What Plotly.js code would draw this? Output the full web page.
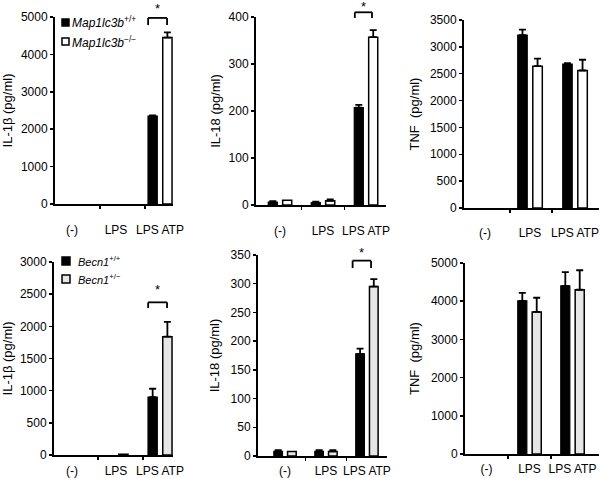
<!DOCTYPE html>
<html>
<head>
<meta charset="utf-8">
<script src="https://cdn.plot.ly/plotly-3.0.1.min.js"></script>
<style>html,body{margin:0;padding:0;background:#fff}#chart{width:600px;height:478px}</style>
</head>
<body>
<div id="chart"></div>
<script>
// ---------- data ----------
const categories = ['(-)', 'LPS', 'LPS ATP'];

// top row: Map1lc3b+/+ (black) vs Map1lc3b-/- (white)
const il1bMapWT = [0, 0, 2350];   const il1bMapWTErr = [0, 0, 20];
const il1bMapKO = [0, 0, 4450];   const il1bMapKOErr = [0, 0, 140];
const il18MapWT = [6, 5, 207];    const il18MapWTErr = [2, 2, 6];
const il18MapKO = [10, 9, 357];   const il18MapKOErr = [0, 3, 15];
const tnfMapWT  = [0, 3220, 2680]; const tnfMapWTErr = [0, 100, 15];
const tnfMapKO  = [0, 2640, 2560]; const tnfMapKOErr = [0, 140, 200];

// bottom row: Becn1+/+ (black) vs Becn1+/- (grey)
const il1bBecWT = [0, 0, 900];    const il1bBecWTErr = [0, 0, 130];
const il1bBecHet = [0, 12, 1840]; const il1bBecHetErr = [0, 0, 230];
const il18BecWT = [8, 8, 178];    const il18BecWTErr = [2, 2, 9];
const il18BecHet = [8, 8, 295];   const il18BecHetErr = [0, 2, 13];
const tnfBecWT  = [0, 4010, 4400]; const tnfBecWTErr = [0, 210, 360];
const tnfBecHet = [0, 3720, 4300]; const tnfBecHetErr = [0, 370, 510];

const seriesNames = {
  mapWT: '<i>Map1lc3b</i><sup>+/+</sup>',
  mapKO: '<i>Map1lc3b</i><sup>−/−</sup>',
  becWT: '<i>Becn1</i><sup>+/+</sup>',
  becHet: '<i>Becn1</i><sup>+/−</sup>'
};
const yTitles = ['IL-1β (pg/ml)', 'IL-18 (pg/ml)', 'TNF\u00a0 (pg/ml)', 'IL-1β (pg/ml)', 'IL-18 (pg/ml)', 'TNF\u00a0 (pg/ml)'];

// ---------- layout helpers ----------
const W = 600, H = 478;
const FONT = 'Liberation Sans, Arial, Helvetica, sans-serif';
const xIdx = categories.map((c, i) => i);

const panels = [
  {xpx:[55,173], ypx:[17,204], yr:[0,5000], dt:1000, xr:[-0.386,2.295], minor:[0.636,1.66], st:6,
   a:[il1bMapWT, il1bMapWTErr, seriesNames.mapWT], b:[il1bMapKO, il1bMapKOErr, seriesNames.mapKO], fillB:'#ffffff', lstand:14},
  {xpx:[256,386], ypx:[17,205], yr:[0,400], dt:100, xr:[-0.558,2.465], minor:[0.5,1.5], st:5,
   a:[il18MapWT, il18MapWTErr, seriesNames.mapWT], b:[il18MapKO, il18MapKOErr, seriesNames.mapKO], fillB:'#ffffff', lstand:14},
  {xpx:[464,599], ypx:[20,208], yr:[0,3500], dt:500, xr:[-0.467,2.533], minor:[0.556,1.49], st:7,
   a:[tnfMapWT, tnfMapWTErr, seriesNames.mapWT], b:[tnfMapKO, tnfMapKOErr, seriesNames.mapKO], fillB:'#ffffff', lstand:13},
  {xpx:[54,173], ypx:[262,455], yr:[0,3000], dt:500, xr:[-0.41,2.295], minor:[0.59,1.61], st:11,
   a:[il1bBecWT, il1bBecWTErr, seriesNames.becWT], b:[il1bBecHet, il1bBecHetErr, seriesNames.becHet], fillB:'#e6e6e6', lstand:4},
  {xpx:[258,387], ypx:[255,456], yr:[0,350], dt:50, xr:[-0.66,2.49], minor:[0.5,1.5], st:8,
   a:[il18BecWT, il18BecWTErr, seriesNames.becWT], b:[il18BecHet, il18BecHetErr, seriesNames.becHet], fillB:'#e6e6e6', lstand:3},
  {xpx:[465,599], ypx:[263,454], yr:[0,5000], dt:1000, xr:[-0.5,2.616], minor:[0.5,1.5], st:8,
   a:[tnfBecWT, tnfBecWTErr, seriesNames.becWT], b:[tnfBecHet, tnfBecHetErr, seriesNames.becHet], fillB:'#e6e6e6', lstand:3}
];

const layout = {
  width: W, height: H,
  margin: {l:0, r:0, t:0, b:0},
  paper_bgcolor: '#ffffff', plot_bgcolor: 'rgba(0,0,0,0)',
  showlegend: false,
  barmode: 'group', bargap: 0.33, bargroupgap: 0.37,
  font: {family: FONT, size: 12, color: '#000'},
  shapes: [], annotations: []
};
const traces = [];

// zero values are drawn without outline / error cap (as in the figure)
const errUp = errs => errs.map(e => (e > 0 ? e : NaN));
const errDown = errs => errs.map(e => (e > 0 ? 0 : NaN));
const lineW = (vals, w) => vals.map(v => (v > 0 ? w : 0));

panels.forEach((p, i) => {
  const n = i + 1;
  const xk = n === 1 ? 'xaxis' : 'xaxis' + n;
  const yk = n === 1 ? 'yaxis' : 'yaxis' + n;
  const xid = n === 1 ? 'x' : 'x' + n;
  const yid = n === 1 ? 'y' : 'y' + n;
  layout[xk] = {
    domain: [p.xpx[0] / W, p.xpx[1] / W], anchor: yid,
    range: p.xr, fixedrange: true,
    tickmode: 'array', tickvals: xIdx, ticktext: categories, ticks: '',
    ticklabelstandoff: p.lstand,
    minor: {tickmode: 'array', tickvals: p.minor, ticks: 'outside', ticklen: 3, tickwidth: 1.5, tickcolor: '#000'},
    showline: true, linecolor: '#000', linewidth: 2, showgrid: false, zeroline: false,
    tickfont: {family: FONT, size: 12, color: '#000'}
  };
  layout[yk] = {
    domain: [1 - p.ypx[1] / H, 1 - p.ypx[0] / H], anchor: xid,
    range: p.yr, fixedrange: true, dtick: p.dt, tick0: 0,
    ticks: 'outside', ticklen: 3, tickwidth: 1.5, tickcolor: '#000',
    showline: true, linecolor: '#000', linewidth: 2, showgrid: false, zeroline: false,
    tickfont: {family: FONT, size: 12, color: '#000'},
    title: {text: yTitles[i], font: {family: FONT, size: 13, color: '#000'}, standoff: p.st}
  };
  traces.push({
    type: 'bar', x: xIdx, y: p.a[0], name: p.a[2], xaxis: xid, yaxis: yid,
    marker: {color: '#000000', line: {color: '#000000', width: lineW(p.a[0], 1.2)}},
    error_y: {type: 'data', array: errUp(p.a[1]), arrayminus: errDown(p.a[1]), symmetric: false, color: '#000', thickness: 1.8, width: 3.5},
    hoverinfo: 'y'
  });
  traces.push({
    type: 'bar', x: xIdx, y: p.b[0], name: p.b[2], xaxis: xid, yaxis: yid,
    marker: {color: p.fillB, line: {color: '#000000', width: lineW(p.b[0], 1.5)}},
    error_y: {type: 'data', array: errUp(p.b[1]), arrayminus: errDown(p.b[1]), symmetric: false, color: '#000', thickness: 1.8, width: 3.5},
    hoverinfo: 'y'
  });
});

// significance brackets (x in category coords, y in axis-domain fraction)
const brackets = [
  {n:1, x0:1.73, x1:2.16, top:0.995, leg:0.957, star:1.045},
  {n:2, x0:1.74, x1:2.14, top:1.025, leg:0.995, star:1.054},
  {n:4, x0:1.73, x1:2.16, top:0.791, leg:0.762, star:0.855},
  {n:5, x0:1.65, x1:2.10, top:0.972, leg:0.935, star:1.012}
];
brackets.forEach(b => {
  const xr = b.n === 1 ? 'x' : 'x' + b.n;
  const yr = (b.n === 1 ? 'y' : 'y' + b.n) + ' domain';
  const ln = {color: '#000', width: 1.8};
  layout.shapes.push({type:'line', xref:xr, yref:yr, x0:b.x0, x1:b.x1, y0:b.top, y1:b.top, line:ln});
  layout.shapes.push({type:'line', xref:xr, yref:yr, x0:b.x0, x1:b.x0, y0:b.top, y1:b.leg, line:ln});
  layout.shapes.push({type:'line', xref:xr, yref:yr, x0:b.x1, x1:b.x1, y0:b.top, y1:b.leg, line:ln});
  layout.annotations.push({xref:xr, yref:yr, x:(b.x0 + b.x1) / 2, y:b.star, text:'*', showarrow:false,
    xanchor:'center', yanchor:'middle', font:{family:FONT, size:13, color:'#000'}});
});

// in-plot legends (swatch + label)
const legends = [
  {sx:[62,69], sy:[19,26], fill:'#000000', tx:70, ty:22.5, text:seriesNames.mapWT, size:12},
  {sx:[62,69], sy:[38,45], fill:'#ffffff', tx:70, ty:42, text:seriesNames.mapKO, size:12},
  {sx:[62,70], sy:[257,265], fill:'#000000', tx:76, ty:261, text:seriesNames.becWT, size:11},
  {sx:[62,70], sy:[275,283], fill:'#e6e6e6', tx:76, ty:279, text:seriesNames.becHet, size:11}
];
legends.forEach(l => {
  layout.shapes.push({type:'rect', xref:'paper', yref:'paper',
    x0:l.sx[0] / W, x1:l.sx[1] / W, y0:1 - l.sy[1] / H, y1:1 - l.sy[0] / H,
    fillcolor:l.fill, line:{color:'#000', width:1.5}});
  layout.annotations.push({xref:'paper', yref:'paper', x:l.tx / W, y:1 - l.ty / H, text:l.text,
    showarrow:false, xanchor:'left', yanchor:'middle', font:{family:FONT, size:l.size, color:'#000'}});
});

Plotly.newPlot('chart', traces, layout, {staticPlot: true, displayModeBar: false});
</script>
</body>
</html>
